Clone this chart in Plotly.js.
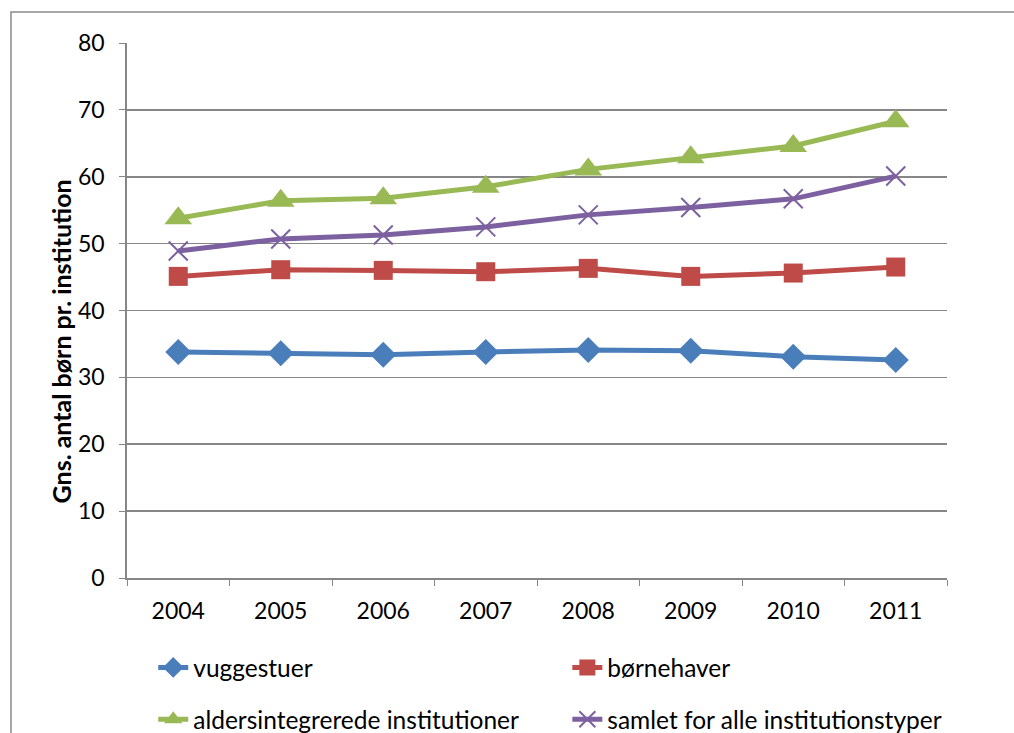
<!DOCTYPE html>
<html>
<head>
<meta charset="utf-8">
<script src="https://cdn.plot.ly/plotly-3.0.1.min.js"></script>
<style>html,body{margin:0;padding:0;background:#fff;}#chart{width:1014px;height:733px;}</style>
</head>
<body>
<div id="chart"></div>
<script>
const years = ['2004','2005','2006','2007','2008','2009','2010','2011'];
const vuggestuer = [33.8, 33.6, 33.4, 33.8, 34.1, 34.0, 33.1, 32.6];
const boernehaver = [45.1, 46.1, 46.0, 45.8, 46.3, 45.1, 45.6, 46.5];
const aldersintegrerede = [53.8, 56.4, 56.8, 58.5, 61.1, 62.9, 64.6, 68.3];
const samlet = [48.9, 50.7, 51.3, 52.5, 54.3, 55.4, 56.7, 60.1];
const seriesNames = ['vuggestuer', 'børnehaver', 'aldersintegrerede institutioner', 'samlet for alle institutionstyper'];
const yTitle = 'Gns. antal børn pr. institution';

const font = 'Lato, "Open Sans", sans-serif';
function tr(name, y, color, symbol, size, legend, mline) {
  return {
    x: years, y: y, name: name, type: 'scatter', mode: 'lines+markers',
    legend: legend, legendgroup: name,
    line: {color: color, width: 5},
    marker: {symbol: symbol, size: size, color: color, line: mline || {width: 0}}
  };
}
const data = [
  tr(seriesNames[0], vuggestuer, '#4A7EBB', 'diamond', 20, 'legend'),
  tr(seriesNames[1], boernehaver, '#BE4B48', 'square', 19, 'legend2'),
  tr(seriesNames[2], aldersintegrerede, '#98B954', 'triangle-up', 24, 'legend'),
  tr(seriesNames[3], samlet, '#7D60A0', 'x-thin-open', 19, 'legend2', {width: 2, color: '#7D60A0'})
];
const legBase = {orientation: 'v', xanchor: 'left', xref: 'paper', yref: 'container',
                 y: 0.12, yanchor: 'top',
                 font: {family: font, size: 24.5}, tracegroupgap: 17, bgcolor: 'rgba(0,0,0,0)'};
const layout = {
  width: 1014, height: 733,
  margin: {l: 127, r: 67, t: 43, b: 155},
  paper_bgcolor: '#fff', plot_bgcolor: '#fff',
  font: {family: font, size: 23, color: '#000'},
  showlegend: true,
  legend: Object.assign({}, legBase, {x: 0.032}),
  legend2: Object.assign({}, legBase, {x: 0.537}),
  xaxis: {type: 'category', range: [-0.5, 7.5], tickson: 'boundaries', ticks: 'outside', ticklen: 6,
          tickcolor: '#868686', showline: true, linecolor: '#868686', linewidth: 1.8,
          showgrid: false, zeroline: false, ticklabelstandoff: 12, fixedrange: true, automargin: false},
  yaxis: {range: [0, 80], dtick: 10, ticks: 'outside', ticklen: 6, tickcolor: '#868686',
          showline: true, linecolor: '#868686', linewidth: 1.8, showgrid: true, automargin: false,
          gridcolor: '#868686', gridwidth: 1.7, zeroline: false, ticklabelstandoff: 10},
  annotations: [
    {text: '<b>' + yTitle + '</b>', xref: 'paper', yref: 'paper', x: -0.08, y: 0.443,
     xanchor: 'center', yanchor: 'middle', textangle: -90, showarrow: false,
     font: {family: font, size: 25, color: '#000'}}
  ],
  shapes: [
    {type: 'rect', xref: 'paper', yref: 'paper', x0: -0.1415, x1: 1.2, y0: -0.5, y1: 1.058,
     line: {color: '#8a8a8a', width: 1.5}, fillcolor: 'rgba(0,0,0,0)', layer: 'below'}
  ]
};
Plotly.newPlot('chart', data, layout, {displayModeBar: false, staticPlot: true});
</script>
</body>
</html>
